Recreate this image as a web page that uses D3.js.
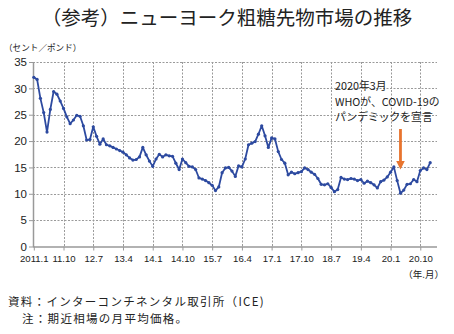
<!DOCTYPE html>
<html><head><meta charset="utf-8">
<script src="https://cdn.jsdelivr.net/npm/d3@7"></script>
<style>
html,body{margin:0;padding:0;background:#fff;}
svg{display:block;}
</style></head>
<body>
<script>
// ---- data (cents / pound, monthly average, 2011.1 – 2021.1) ----
const startYear = 2011;
const price2011 = [32.1, 31.7, 28.1, 25.4, 21.7, 26.0, 29.4, 28.9, 27.6, 26.2, 24.6, 23.3];
const price2012 = [24.0, 24.9, 24.7, 22.9, 20.2, 20.3, 22.7, 20.9, 19.4, 20.4, 19.3, 19.1];
const price2013 = [18.8, 18.5, 18.2, 17.9, 17.4, 16.8, 16.4, 16.5, 17.0, 18.8, 17.4, 16.2];
const price2014 = [15.2, 16.6, 17.5, 17.0, 17.4, 17.2, 17.1, 15.8, 14.6, 16.6, 15.9, 15.2];
const price2015 = [15.1, 14.6, 13.0, 12.8, 12.5, 12.1, 11.6, 10.6, 11.3, 14.0, 14.9, 15.0];
const price2016 = [14.3, 13.3, 15.3, 15.1, 16.6, 19.3, 19.6, 19.9, 21.3, 22.9, 21.0, 18.8];
const price2017 = [20.6, 20.4, 18.0, 16.5, 15.8, 13.6, 14.1, 13.8, 14.0, 14.2, 14.9, 14.6];
const price2018 = [14.1, 13.7, 12.9, 11.8, 11.7, 11.9, 11.2, 10.4, 10.8, 13.1, 12.8, 12.7];
const price2019 = [12.9, 12.8, 12.5, 12.7, 12.0, 12.4, 12.1, 11.7, 11.1, 12.3, 12.6, 13.2];
const price2020 = [14.1, 15.1, 12.5, 10.1, 10.7, 11.8, 11.9, 12.7, 12.3, 14.4, 14.9, 14.6];
const price2021 = [15.9];

const xTickLabels = ["2011.1","11.10","12.7","13.4","14.1","14.10","15.7","16.4","17.1","17.10","18.7","19.4","20.1","20.10"];
const yTicks = [0, 5, 10, 15, 20, 25, 30, 35];
const annotationLines = ["2020年3月", "WHOが、COVID-19の", "パンデミックを宣言"];
const annotationMonth = "2020.4";

const allYears = [price2011, price2012, price2013, price2014, price2015, price2016,
                  price2017, price2018, price2019, price2020, price2021];
const series = [];
allYears.forEach((arr, yi) => arr.forEach((v, mi) =>
  series.push({label: (startYear + yi) + "." + (mi + 1), value: v})));
const idxOf = lbl => series.findIndex(d => d.label === lbl);

// ---- layout ----
const W = 454, H = 334;
const plotL = 33, plotR = 437, plotT = 62, plotB = 246.5;

const svg = d3.select("body").append("svg").attr("width", W).attr("height", H);

const x = d3.scaleLinear().domain([0, 120]).range([33.8, 430.2]);
const y = d3.scaleLinear().domain([0, 35]).range([plotB, plotT]);

const jp = "'Noto Sans CJK JP','Noto Sans',sans-serif";
const num = "'Liberation Sans','DejaVu Sans',sans-serif";

// title
svg.append("text").attr("x", 227).attr("y", 25).attr("text-anchor", "middle")
  .attr("font-family", jp).attr("font-size", 19.5).attr("fill", "#222")
  .text("（参考）ニューヨーク粗糖先物市場の推移");

svg.append("text").attr("x", 4).attr("y", 51)
  .attr("font-family", jp).attr("font-size", 8.6).attr("fill", "#222")
  .text("（セント／ポンド）");

// grid
const grid = svg.append("g").attr("stroke", "#9a9a9a").attr("stroke-width", 1)
  .attr("stroke-dasharray", "2,1.5");
grid.selectAll("line.h").data(yTicks.filter(d => d > 0)).join("line")
  .attr("x1", plotL).attr("x2", plotR)
  .attr("y1", d => Math.round(y(d)) + 0.5).attr("y2", d => Math.round(y(d)) + 0.5);
grid.selectAll("line.v").data(xTickLabels.slice(1)).join("line")
  .attr("x1", (d, i) => Math.round(x((i + 1) * 9)) + 0.5)
  .attr("x2", (d, i) => Math.round(x((i + 1) * 9)) + 0.5)
  .attr("y1", plotT).attr("y2", plotB);

// axes
const yAxis = d3.axisLeft(y).tickValues(yTicks).tickSize(4).tickSizeOuter(0);
const gy = svg.append("g").attr("transform", `translate(${plotL},0)`).call(yAxis);
gy.select(".domain").attr("stroke", "#999").attr("stroke-width", 1.5);
gy.selectAll(".tick line").attr("stroke", "#999");
gy.selectAll(".tick text").attr("font-family", num).attr("font-size", 11.5)
  .attr("fill", "#222").attr("x", -6);

const xAxis = d3.axisBottom(x).tickValues(xTickLabels.map((d, i) => i * 9))
  .tickFormat((d, i) => xTickLabels[i]).tickSize(4).tickSizeOuter(0);
const gx = svg.append("g").attr("transform", `translate(0,${plotB})`).call(xAxis);
gx.select(".domain").attr("d", `M${plotL},0.5H${plotR}`).attr("stroke", "#999").attr("stroke-width", 1.5);
gx.selectAll(".tick line").attr("stroke", "#999");
gx.selectAll(".tick text").attr("font-family", num).attr("font-size", 9.6)
  .attr("fill", "#222").attr("y", 9);

svg.append("text").attr("x", 444).attr("y", 278).attr("text-anchor", "end")
  .attr("font-family", jp).attr("font-size", 9.5).attr("fill", "#222").text("（年.月）");

// line
const lineColor = "#2d4aa0";
svg.append("path").datum(series)
  .attr("fill", "none").attr("stroke", lineColor).attr("stroke-width", 1.8)
  .attr("stroke-linejoin", "round")
  .attr("d", d3.line().x((d, i) => x(i)).y(d => y(d.value)));
svg.append("g").selectAll("circle").data(series).join("circle")
  .attr("cx", (d, i) => x(i)).attr("cy", d => y(d.value)).attr("r", 1.6)
  .attr("fill", lineColor);

// annotation
const ann = svg.append("text").attr("font-family", jp).attr("font-size", 10.8).attr("fill", "#222");
annotationLines.forEach((t, i) => ann.append("tspan").attr("x", 335).attr("y", 90 + i * 15.6).text(t));

const ax = x(idxOf(annotationMonth));
svg.append("line").attr("x1", ax).attr("x2", ax).attr("y1", 129).attr("y2", 162)
  .attr("stroke", "#e8742e").attr("stroke-width", 2.8);
svg.append("path")
  .attr("d", `M${ax - 4.3},161 L${ax + 4.3},161 L${ax},169.5 Z`)
  .attr("fill", "#e8742e");

// footer
svg.append("text").attr("x", 8).attr("y", 305.6)
  .attr("font-family", jp).attr("font-size", 11.5).attr("letter-spacing", 1.3).attr("fill", "#222")
  .text("資料：インターコンチネンタル取引所（ICE)");
svg.append("text").attr("x", 22).attr("y", 322.5)
  .attr("font-family", jp).attr("font-size", 11.5).attr("letter-spacing", 1.3).attr("fill", "#222")
  .text("注：期近相場の月平均価格。");
</script>
</body></html>
